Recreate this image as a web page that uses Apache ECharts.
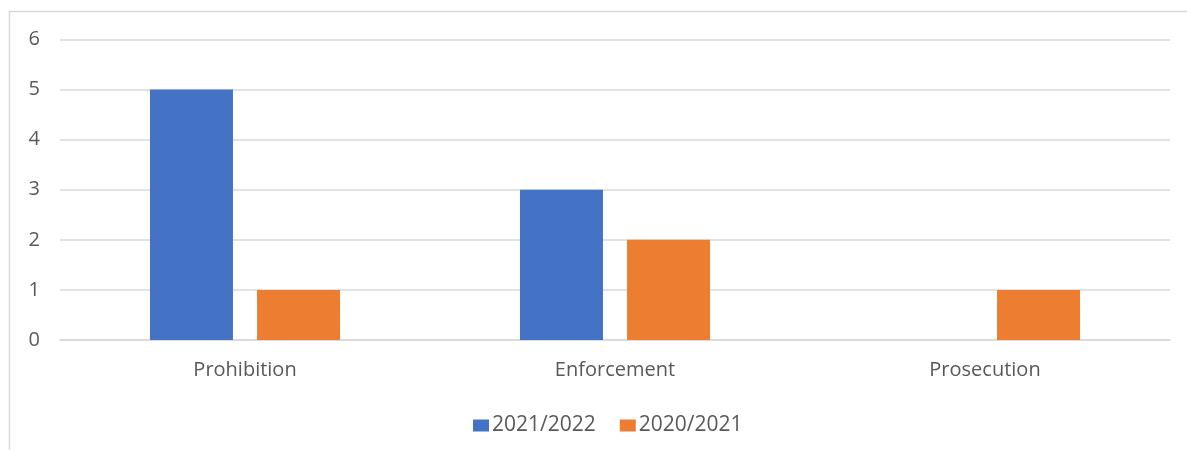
<!DOCTYPE html>
<html>
<head>
<meta charset="utf-8">
<script src="https://cdn.jsdelivr.net/npm/echarts@6/dist/echarts.min.js"></script>
<style>html,body{margin:0;padding:0;background:#fff;}#c{width:1187px;height:450px;}</style>
</head>
<body>
<div id="c"></div>
<script>
const categories = ['Prohibition', 'Enforcement', 'Prosecution'];
const series2122 = [5, 3, 0];
const series2021 = [1, 2, 1];
const seriesNames = ['2021/2022', '2020/2021'];
const yTicks = [0, 1, 2, 3, 4, 5, 6];

const chart = echarts.init(document.getElementById('c'), null, {renderer: 'canvas'});
const font = 'Open Sans, Liberation Sans, sans-serif';
chart.setOption({
  animation: false,
  backgroundColor: '#fff',
  graphic: [{
    type: 'rect', silent: true,
    shape: {x: 9.5, y: 11.5, width: 1300, height: 600},
    style: {fill: 'none', stroke: '#d9d9d9', lineWidth: 1.5}
  }],
  grid: {left: 60, right: 17, top: 39.5, bottom: 110, containLabel: false},
  legend: {
    data: seriesNames, top: 410, left: 468,
    itemWidth: 16, itemHeight: 12, itemGap: 24, icon: 'rect',
    textStyle: {color: '#595959', fontSize: 21, fontFamily: font, padding: [0,0,0,-2]}
  },
  xAxis: {
    type: 'category', data: categories,
    axisLine: {show: true, lineStyle: {color: '#d9d9d9', width: 1.5}},
    axisTick: {show: false},
    axisLabel: {color: '#595959', fontSize: 20, fontFamily: font, margin: 20}
  },
  yAxis: {
    type: 'value', min: yTicks[0], max: yTicks[yTicks.length-1], interval: 1,
    axisLine: {show: false}, axisTick: {show: false},
    splitLine: {lineStyle: {color: '#d9d9d9', width: 1.5}},
    axisLabel: {color: '#595959', fontSize: 20, fontFamily: font, margin: 20, align: 'right'}
  },
  series: [
    {name: seriesNames[0], type: 'bar', data: series2122, barWidth: 83, barGap: '29%', itemStyle: {color: '#4472c4'}},
    {name: seriesNames[1], type: 'bar', data: series2021, barWidth: 83, barGap: '29%', itemStyle: {color: '#ed7d31'}}
  ]
});
</script>
</body>
</html>
